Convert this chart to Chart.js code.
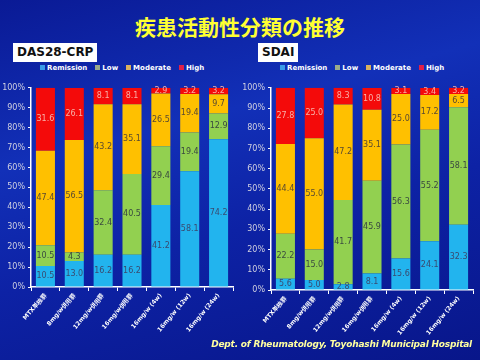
<!DOCTYPE html>
<html><head><meta charset="utf-8">
<script src="https://cdn.jsdelivr.net/npm/chart.js@4/dist/chart.umd.min.js"></script>
<style>
html,body{margin:0;padding:0;}
body{width:480px;height:360px;overflow:hidden;position:relative;
background:linear-gradient(165deg,#0a1a95 0%,#1230b8 35%,#0d22a5 60%,#08168a 100%);font-family:"DejaVu Sans",sans-serif;}
#title{position:absolute;left:0;width:480px;top:11px;text-align:center;color:#ffff33;font:bold 21px "Noto Sans CJK JP";}
.box{position:absolute;background:#fff;color:#111;font:bold 12px "DejaVu Sans";height:19px;line-height:19px;padding:0 4px;}
.legend{position:absolute;top:64px;color:#fff;font:bold 7px "DejaVu Sans";white-space:nowrap;}
.legend span.sw{display:inline-block;width:5px;height:5px;margin-right:2px;vertical-align:0px;}
.legend span.it{margin-right:8px;}
canvas{position:absolute;}
#footer{position:absolute;right:8px;top:339px;color:#ffffa0;font:italic bold 9px "DejaVu Sans";letter-spacing:-0.2px;}
</style></head>
<body>
<div id="title">疾患活動性分類の推移</div>
<div class="box" style="left:13px;top:43px;">DAS28-CRP</div>
<div class="box" style="left:258px;top:43px;">SDAI</div>
<div class="legend" id="leg1" style="left:40px;"></div>
<div class="legend" id="leg2" style="left:280px;"></div>
<canvas id="c1" width="240" height="260" style="left:0;top:80px;"></canvas>
<canvas id="c2" width="240" height="260" style="left:240px;top:80px;"></canvas>
<div id="footer">Dept. of Rheumatology, Toyohashi Municipal Hospital</div>
<script>
const categories = ["MTX単独群","8mg/w併用群","12mg/w併用群","16mg/w併用群","16mg/w (4w)","16mg/w (12w)","16mg/w (24w)"];
const seriesNames = ["Remission","Low","Moderate","High"];
const seriesColors = ["#22b4ee","#92d050","#ffc000","#f40a0a"];
const legendColors = ["#3a9be8","#9aaa8a","#d8b060","#e0204a"];
const labelColors = ["#3a4a70","#3a4a40","#5a4a30","#f7b0a8"];
const yTicks = [0,10,20,30,40,50,60,70,80,90,100];

const dasRemission = [10.5,13.0,16.2,16.2,41.2,58.1,74.2];
const dasLow       = [10.5,4.3,32.4,40.5,29.4,19.4,12.9];
const dasModerate  = [47.4,56.5,43.2,35.1,26.5,19.4,9.7];
const dasHigh      = [31.6,26.1,8.1,8.1,2.9,3.2,3.2];

const sdaiRemission = [5.6,5.0,2.8,8.1,15.6,24.1,32.3];
const sdaiLow       = [22.2,15.0,41.7,45.9,56.3,55.2,58.1];
const sdaiModerate  = [44.4,55.0,47.2,35.1,25.0,17.2,6.5];
const sdaiHigh      = [27.8,25.0,8.3,10.8,3.1,3.4,3.2];

function buildLegend(id){
  const el=document.getElementById(id);
  seriesNames.forEach((n,i)=>{
    el.innerHTML += '<span class="sw" style="background:'+legendColors[i]+'"></span><span class="it">'+n+'</span>';
  });
}
buildLegend('leg1'); buildLegend('leg2');

const labelPlugin = {
  id:'barLabels',
  afterDatasetsDraw(chart){
    const ctx=chart.ctx;
    ctx.save();
    ctx.font='8px "DejaVu Sans"';
    ctx.textAlign='center'; ctx.textBaseline='middle';
    chart.data.datasets.forEach((ds,di)=>{
      const meta=chart.getDatasetMeta(di);
      meta.data.forEach((bar,i)=>{
        const v=ds.data[i];
        ctx.fillStyle=labelColors[di];
        ctx.fillText(v.toFixed(1), bar.x, (bar.y+bar.base)/2);
      });
    });
    ctx.restore();
  }
};

function makeChart(id, series, xHeight){
  new Chart(document.getElementById(id),{
    type:'bar',
    data:{labels:categories,
      datasets:series.map((d,i)=>({label:seriesNames[i],data:d,backgroundColor:seriesColors[i],borderWidth:0,
        barPercentage:0.66,categoryPercentage:1.0}))},
    options:{
      responsive:false,animation:false,
      layout:{padding:{left:0,right:7,top:6,bottom:0}},
      plugins:{legend:{display:false},tooltip:{enabled:false}},
      scales:{
        x:{stacked:true,
          grid:{display:true,drawOnChartArea:false,drawTicks:true,tickLength:4,color:'#ffffff'},
          border:{display:true,color:'#ffffff',width:1.5},
          ticks:{color:'#ffffff',font:{size:6,weight:'bold',family:'DejaVu Sans'},maxRotation:50,minRotation:50,padding:1,autoSkip:false},
          afterFit(s){s.height=xHeight;}
        },
        y:{stacked:true,min:0,max:100,
          afterBuildTicks(s){s.ticks=yTicks.map(v=>({value:v}));},
          grid:{display:true,drawOnChartArea:false,drawTicks:true,tickLength:3,color:'#ffffff'},
          border:{display:true,color:'#ffffff',width:1.5},
          ticks:{color:'#d0d0e0',font:{size:8,family:'DejaVu Sans'},padding:3,callback:v=>v+'%'},
          afterFit(s){s.width=31;}
        }
      }
    },
    plugins:[labelPlugin]
  });
}
makeChart('c1',[dasRemission,dasLow,dasModerate,dasHigh],53);
makeChart('c2',[sdaiRemission,sdaiLow,sdaiModerate,sdaiHigh],50);
</script>
</body></html>
